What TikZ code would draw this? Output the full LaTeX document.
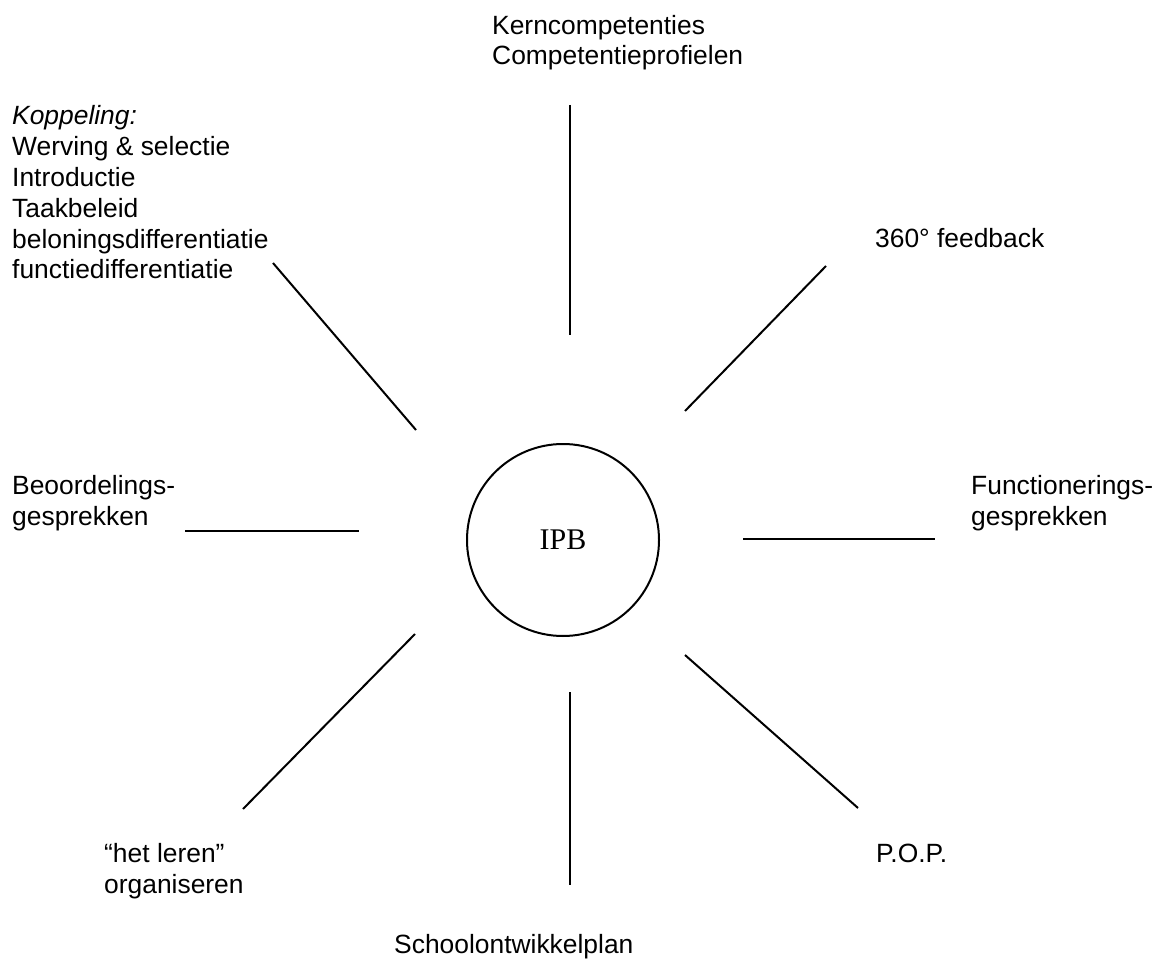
\documentclass[tikz,border=0pt]{standalone}
\usepackage{fontspec}
\setmainfont{Liberation Sans}
\newfontfamily\ipbfont{Liberation Serif}
\begin{document}
\begin{tikzpicture}[x=1pt,y=-1pt,
  lbl/.style={anchor=base west,inner sep=0pt,align=left,font=\fontsize{26.4}{30.8}\selectfont},
  spoke/.style={line width=2pt},
  hub/.style={circle,draw,line width=2pt,minimum size=192pt,inner sep=0pt,font=\ipbfont\fontsize{30}{34}\selectfont}]
\useasboundingbox (0,0) rectangle (1157,960);
% centre
\node[hub] (ipb) at (563,540) {IPB};
% labels (anchor = baseline of last line)
\node[lbl] (kern) at (492,65) {Kerncompetenties\\Competentieprofielen};
\node[lbl] (kopp) at (12,279) {\textit{Koppeling:}\\Werving \& selectie\\Introductie\\Taakbeleid\\beloningsdifferentiatie\\functiedifferentiatie};
\node[lbl] (fb) at (875,248) {360° feedback};
\node[lbl] (beoord) at (12,525) {Beoordelings-\\gesprekken};
\node[lbl] (funct) at (971,525) {Functionerings-\\gesprekken};
\node[lbl] (leren) at (104,893) {“het leren”\\organiseren};
\node[lbl] (pop) at (876,862) {P.O.P.};
\node[lbl] (school) at (394,953) {Schoolontwikkelplan};
% spoke ends
\coordinate (n1) at (570,105);  \coordinate (n2) at (570,335);
\coordinate (ne1) at (826,266); \coordinate (ne2) at (685,411);
\coordinate (e1) at (743,539);  \coordinate (e2) at (935,539);
\coordinate (se1) at (685,655); \coordinate (se2) at (858,808);
\coordinate (s1) at (570,692);  \coordinate (s2) at (570,885);
\coordinate (sw1) at (415,634); \coordinate (sw2) at (243,809);
\coordinate (w1) at (185,531);  \coordinate (w2) at (359,531);
\coordinate (nw1) at (273,263); \coordinate (nw2) at (416,430);
\draw[spoke] (n1) -- (n2);
\draw[spoke] (ne1) -- (ne2);
\draw[spoke] (e1) -- (e2);
\draw[spoke] (se1) -- (se2);
\draw[spoke] (s1) -- (s2);
\draw[spoke] (sw1) -- (sw2);
\draw[spoke] (w1) -- (w2);
\draw[spoke] (nw1) -- (nw2);
\end{tikzpicture}
\end{document}
